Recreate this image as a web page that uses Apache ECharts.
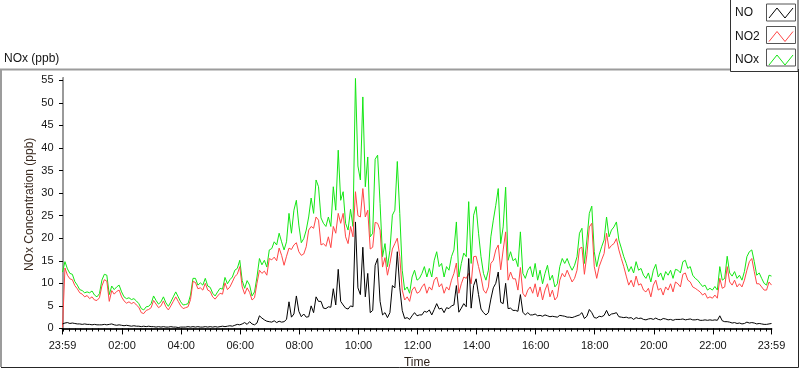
<!DOCTYPE html>
<html><head><meta charset="utf-8">
<script src="https://cdn.jsdelivr.net/npm/echarts@6.0.0/dist/echarts.min.js"></script>
<style>html,body{margin:0;padding:0;background:#fff;}#chart{width:800px;height:369px;}</style>
</head><body><div id="chart"></div>
<script>
// Time axis: minutes from midnight; first sample is 23:59 of the previous day
const START_MIN = -1;
const STEP_MIN = 5;
const X_TICK_VALUES = [-1, 120, 240, 360, 480, 600, 720, 840, 960, 1080, 1200, 1320, 1439];
const X_TICK_LABELS = ['23:59','02:00','04:00','06:00','08:00','10:00','12:00','14:00','16:00','18:00','20:00','22:00','23:59'];
const Y_TICKS = [0,5,10,15,20,25,30,35,40,45,50,55];
const SERIES_NAMES = ['NO','NO2','NOx'];

const NO2 = [
0.2,13.4,11.8,11.0,10.8,9.5,8.8,7.9,7.6,7.0, 7.3,6.6,7.0,6.3,6.2,6.8,9.4,10.8,10.5,6.0,
8.4,7.6,8.2,8.5,7.0,6.1,5.6,5.9,5.5,5.8, 5.2,4.7,3.5,3.3,4.0,4.2,4.6,6.2,5.4,4.6,
5.0,6.1,4.8,4.1,5.0,6.0,7.0,6.0,5.0,4.4,
4.6,4.8,6.4,10.4,10.2,8.8,9.0,8.5,10.0,8.5, 8.2,7.0,6.5,7.2,7.8,7.6,10.1,8.6,9.2,10.3,
11.5,12.0,13.7,9.2,7.6,9.0,8.0,6.3,6.8,10.0, 12.9,12.2,12.7,11.8,15.5,15.2,15.8,15.0,17.8,16.2,
14.0,16.0,17.8,17.5,18.5,19.0,17.0,16.2,16.5,18.1,
21.8,22.6,22.2,24.7,24.0,18.5,18.8,18.2,20.3,17.9, 22.6,21.1,25.5,23.3,25.5,20.3,18.8,22.6,20.3,30.3,
25.0,24.7,31.0,24.7,26.2,17.6,18.0,23.5,23.3,21.8, 13.6,15.7,11.8,14.4,17.6,18.8,20.0,15.9,8.5,6.3,
7.0,6.0,8.5,9.2,7.8,8.1,9.2,9.9,7.8,9.2,
8.5,10.7,11.4,9.2,9.9,7.8,9.2,8.5,10.7,12.2, 14.5,7.8,9.9,11.4,11.1,12.2,9.9,15.9,16.0,13.7,
11.4,8.5,7.8,9.2,14.4,15.1,17.4,18.5,13.0,17.4, 21.4,10.7,12.5,11.0,11.0,8.5,13.5,7.8,7.0,8.5,
9.2,7.8,9.9,7.0,9.2,6.3,8.5,9.9,7.0,8.5, 6.3,7.0,10.7,12.2,11.4,
12.9,11.6,10.3,11.1,12.9,17.7,18.0,12.0,16.3,22.5, 23.3,13.7,11.1,13.7,15.2,16.6,21.1,17.7,18.4,18.8,
19.9,17.4,15.5,13.7,11.6,9.6,10.7,9.2,11.6,9.6, 9.9,8.5,8.1,8.9,7.0,9.6,10.7,8.5,8.9,7.4,
9.2,8.5,9.9,8.1,10.3,
9.9,9.2,12.0,12.3,10.7,10.3,9.2,8.9,8.5,8.1, 7.4,7.8,6.7,7.0,6.7,7.4,6.7,11.1,8.9,9.2,
13.7,10.3,9.6,10.7,9.2,9.9,9.2,10.7,12.9,14.8, 15.5,12.6,9.9,9.9,9.2,8.5,8.5,10.3,9.6
];

const NOX = [
12.5,14.8,13.2,12.2,12.0,10.4,9.6,8.6,8.4,7.9, 8.1,7.9,8.3,7.4,7.0,7.7,10.7,12.0,11.8,7.5,
9.4,8.6,9.2,9.6,8.1,7.0,6.6,6.8,6.4,6.6, 6.1,5.5,4.4,4.1,4.8,4.9,5.5,7.2,6.2,5.4,
5.9,7.0,5.7,4.9,5.9,7.0,8.1,7.0,5.9,5.2,
5.3,5.5,7.4,11.1,11.1,9.6,10.1,9.6,11.1,9.4, 9.1,7.8,7.2,8.1,8.9,8.7,11.3,9.9,10.8,11.4,
12.9,13.3,15.1,10.6,8.9,10.6,9.6,7.2,8.1,11.4, 15.5,14.1,15.1,13.6,17.4,17.7,19.2,18.5,21.1,19.2,
17.4,19.2,25.5,21.1,26.2,28.4,22.9,19.0,19.9,21.8,
24.7,28.9,25.5,32.9,31.4,24.5,23.3,22.6,24.7,22.6, 31.4,26.2,39.5,28.4,30.3,23.3,21.8,26.4,22.6,55.4,
36.0,32.9,51.3,31.4,38.0,20.3,21.1,37.5,38.4,27.7, 15.9,18.8,13.7,17.3,25.1,26.2,37.0,25.5,12.9,8.5,
9.2,7.8,11.4,12.9,10.7,11.1,12.2,13.7,11.4,13.3,
11.4,15.1,17.0,13.7,14.4,11.4,13.7,12.9,15.9,17.4, 23.6,11.4,14.4,16.7,15.9,28.1,14.4,25.1,27.0,21.1,
15.9,12.2,10.7,12.9,20.3,24.0,27.3,31.0,18.8,22.5, 31.3,15.1,17.0,15.0,15.5,13.7,21.4,12.2,11.1,12.9,
13.7,11.4,14.4,10.7,12.9,9.9,12.2,14.0,10.7,11.8, 9.2,9.9,13.7,15.5,14.4,
15.5,14.0,12.9,14.0,15.9,21.1,22.2,14.4,19.6,25.5, 27.1,17.0,13.7,16.3,18.1,19.6,24.7,20.3,21.8,22.5,
23.6,19.6,17.8,15.9,14.4,12.6,13.7,12.3,14.8,12.9, 13.3,11.8,11.1,12.3,10.3,12.9,14.2,11.4,12.3,10.7,
12.6,11.8,12.9,11.1,13.1,
12.9,12.3,14.8,15.1,13.3,13.7,11.8,11.1,10.7,10.0, 9.3,9.6,8.5,8.9,8.5,9.3,8.5,13.7,10.7,11.1,
16.0,12.3,11.6,12.6,11.1,11.8,10.7,12.6,15.9,17.0, 17.4,14.8,11.8,12.3,11.1,10.0,9.6,11.8,11.6
];

const NO = [
1.0,1.2,1.3,1.1,1.2,1.1,1.0,1.0,0.9,1.0, 0.9,0.9,0.8,0.9,0.8,0.8,0.8,0.9,0.8,0.9,
1.0,0.8,0.7,0.8,0.7,0.6,0.7,0.6,0.5,0.6, 0.5,0.5,0.4,0.5,0.4,0.5,0.4,0.4,0.3,0.4,
0.3,0.4,0.3,0.3,0.4,0.3,0.3,0.2,0.3,0.3,
0.3,0.4,0.3,0.4,0.3,0.4,0.3,0.3,0.4,0.3, 0.4,0.3,0.4,0.3,0.4,0.5,0.4,0.5,0.6,0.5,
0.7,0.9,0.8,1.0,1.3,0.9,1.5,1.0,0.8,1.2, 2.8,2.3,1.9,1.6,1.5,1.4,1.7,1.3,1.6,1.4,
1.5,2.0,5.9,2.5,3.2,7.2,3.8,2.6,3.2,2.5,
2.6,5.0,3.5,7.0,6.0,6.0,4.5,4.4,4.8,4.7, 8.8,5.2,13.1,6.0,5.2,4.5,4.3,5.0,4.8,23.6,
9.0,7.5,18.0,7.0,12.2,3.5,4.0,14.0,15.5,6.0, 3.0,3.5,2.4,3.5,9.5,9.0,17.0,9.0,4.0,2.2,
2.4,2.0,2.8,3.5,2.8,3.0,3.0,3.8,3.6,4.1,
3.0,4.2,5.5,4.3,4.5,3.5,4.6,4.4,5.0,5.2, 9.5,3.6,4.5,5.5,4.8,15.5,4.5,9.5,11.0,7.5,
4.3,3.5,3.0,3.5,6.5,9.0,10.0,12.5,5.8,5.5, 10.0,4.4,4.5,4.0,4.0,3.8,7.5,3.6,3.0,3.5,
3.0,3.0,3.2,2.8,2.9,2.7,3.0,2.8,2.6,2.7, 2.6,2.5,2.9,2.8,2.7,
2.5,2.5,2.4,2.6,2.8,3.0,3.5,2.2,2.7,4.2, 3.5,2.4,2.3,2.7,2.6,2.9,4.0,2.8,3.2,3.3,
3.5,2.6,2.5,2.4,2.5,2.3,2.4,2.0,2.4,2.2, 2.3,2.0,1.9,2.1,2.2,2.0,2.3,2.0,1.9,2.2,
2.1,1.9,2.0,1.8,2.0,
2.0,2.0,2.1,1.9,2.0,2.1,1.9,1.9,2.0,1.8, 1.8,1.9,1.8,1.9,1.8,1.9,1.8,2.8,1.7,1.5,
1.5,1.4,1.2,1.3,1.1,1.2,1.0,1.1,1.4,1.2, 1.3,1.2,1.0,1.1,1.0,0.9,0.9,1.0,1.1
];

const TIMES = NO2.map((_, i) => START_MIN + i * STEP_MIN);
const pairs = vals => vals.map((v, i) => [TIMES[i], v]);

const MINOR_TICKS = [];
for (let m = 0; m <= 1428; m += 12) MINOR_TICKS.push(m);

const FONT = 'Liberation Sans, Arial, sans-serif';
const TXT = '#141414';
const COLORS = { NO: '#000000', NO2: '#ff4646', NOx: '#14e614' };

const xBase = { type: 'value', min: -1, max: 1439, splitLine: { show: false } };
const yBase = { type: 'value', min: -0.5, max: 55.5, splitLine: { show: false } };

const chart = echarts.init(document.getElementById('chart'), null, { renderer: 'canvas' });
chart.setOption({
  animation: false,
  backgroundColor: '#ffffff',
  textStyle: { fontFamily: FONT },
  title: { text: 'NOx (ppb)', left: 4, top: 53, padding: 0,
    textStyle: { fontSize: 12, fontWeight: 'normal', color: TXT, fontFamily: FONT } },
  grid: { left: 62.5, right: 28.5, top: 78, bottom: 38.3, containLabel: false, outerBoundsMode: 'none' },
  xAxis: [
    Object.assign({}, xBase, {
      position: 'bottom',
      axisLine: { show: true, lineStyle: { color: '#9a9a9a', width: 2 } },
      axisTick: { show: true, customValues: X_TICK_VALUES, length: 6, lineStyle: { color: '#000' } },
      axisLabel: { customValues: X_TICK_VALUES, margin: 9.5, fontSize: 11, color: TXT, fontFamily: FONT,
        formatter: v => X_TICK_LABELS[X_TICK_VALUES.indexOf(v)] },
      name: 'Time', nameLocation: 'middle', nameGap: 25.5, nameMoveOverlap: false,
      nameTextStyle: { fontSize: 12, color: '#2a1f18', fontFamily: FONT }
    }),
    Object.assign({}, xBase, {
      position: 'bottom',
      axisLine: { show: false },
      axisTick: { show: true, customValues: MINOR_TICKS, length: 3, lineStyle: { color: '#000' } },
      axisLabel: { show: false }
    }),
    Object.assign({}, xBase, {
      position: 'top',
      axisLine: { show: true, lineStyle: { color: '#000', width: 1.5 } },
      axisTick: { show: false }, axisLabel: { show: false }
    })
  ],
  yAxis: [
    Object.assign({}, yBase, {
      position: 'left', offset: 2,
      axisLine: { show: false },
      axisTick: { show: true, customValues: Y_TICKS, length: 4, lineStyle: { color: '#000' } },
      axisLabel: { customValues: Y_TICKS, margin: 7, fontSize: 11, color: TXT, fontFamily: FONT },
      name: 'NOx Concentration (ppb)', nameLocation: 'middle', nameGap: 24.5, nameMoveOverlap: false,
      nameTextStyle: { fontSize: 12, color: '#3a2a20', fontFamily: FONT }
    }),
    Object.assign({}, yBase, {
      position: 'left',
      axisLine: { show: true, lineStyle: { color: '#000', width: 1 } },
      axisTick: { show: false }, axisLabel: { show: false }
    }),
    Object.assign({}, yBase, {
      position: 'right',
      axisLine: { show: true, lineStyle: { color: '#9a9a9a', width: 2 } },
      axisTick: { show: false }, axisLabel: { show: false }
    })
  ],
  legend: {
    orient: 'vertical', left: 735, top: 5.5, align: 'right', padding: 0,
    itemWidth: 24, itemHeight: 10, itemGap: 8.5,
    icon: 'path://M0,10L8,0L16,10L24,0',
    z: 10,
    formatter: '{t|{name}}',
    textStyle: { fontSize: 12, color: TXT, fontFamily: FONT,
      rich: { t: { width: 29, align: 'left', lineHeight: 14, fontSize: 12, color: TXT, fontFamily: FONT } } },
    data: SERIES_NAMES.map(n => ({ name: n,
      itemStyle: { color: 'none', borderColor: COLORS[n], borderWidth: 1 } }))
  },
  graphic: [
    { type: 'polyline', z: 1, silent: true, shape: { points: [[1, 367], [1, 69.5], [798, 69.5]] },
      style: { stroke: '#9c9c9c', lineWidth: 2, fill: 'none' } },
    { type: 'polyline', z: 1, silent: true, shape: { points: [[1, 367.5], [798.5, 367.5], [798.5, 69]] },
      style: { stroke: '#262626', lineWidth: 1, fill: 'none' } },
    { type: 'rect', z: 2, silent: true, shape: { x: 730.5, y: -1, width: 67.5, height: 72.5 },
      style: { fill: '#ffffff', stroke: '#333333', lineWidth: 1 } },
    { type: 'rect', z: 3, silent: true, shape: { x: 766.5, y: 4, width: 29, height: 17 },
      style: { fill: '#ffffff', stroke: '#555555', lineWidth: 1 } },
    { type: 'rect', z: 3, silent: true, shape: { x: 766.5, y: 26.5, width: 29, height: 17 },
      style: { fill: '#ffffff', stroke: '#555555', lineWidth: 1 } },
    { type: 'rect', z: 3, silent: true, shape: { x: 766.5, y: 49, width: 29, height: 17 },
      style: { fill: '#ffffff', stroke: '#555555', lineWidth: 1 } }
  ],
  series: [
    { name: 'NOx', type: 'line', xAxisIndex: 0, yAxisIndex: 0, data: pairs(NOX),
      symbol: 'none', showSymbol: false, lineStyle: { color: COLORS.NOx, width: 1 },
      itemStyle: { color: COLORS.NOx }, z: 2 },
    { name: 'NO2', type: 'line', xAxisIndex: 0, yAxisIndex: 0, data: pairs(NO2),
      symbol: 'none', showSymbol: false, lineStyle: { color: COLORS.NO2, width: 1 },
      itemStyle: { color: COLORS.NO2 }, z: 3 },
    { name: 'NO', type: 'line', xAxisIndex: 0, yAxisIndex: 0, data: pairs(NO),
      symbol: 'none', showSymbol: false, lineStyle: { color: COLORS.NO, width: 1 },
      itemStyle: { color: COLORS.NO }, z: 4 }
  ]
});
</script></body></html>
